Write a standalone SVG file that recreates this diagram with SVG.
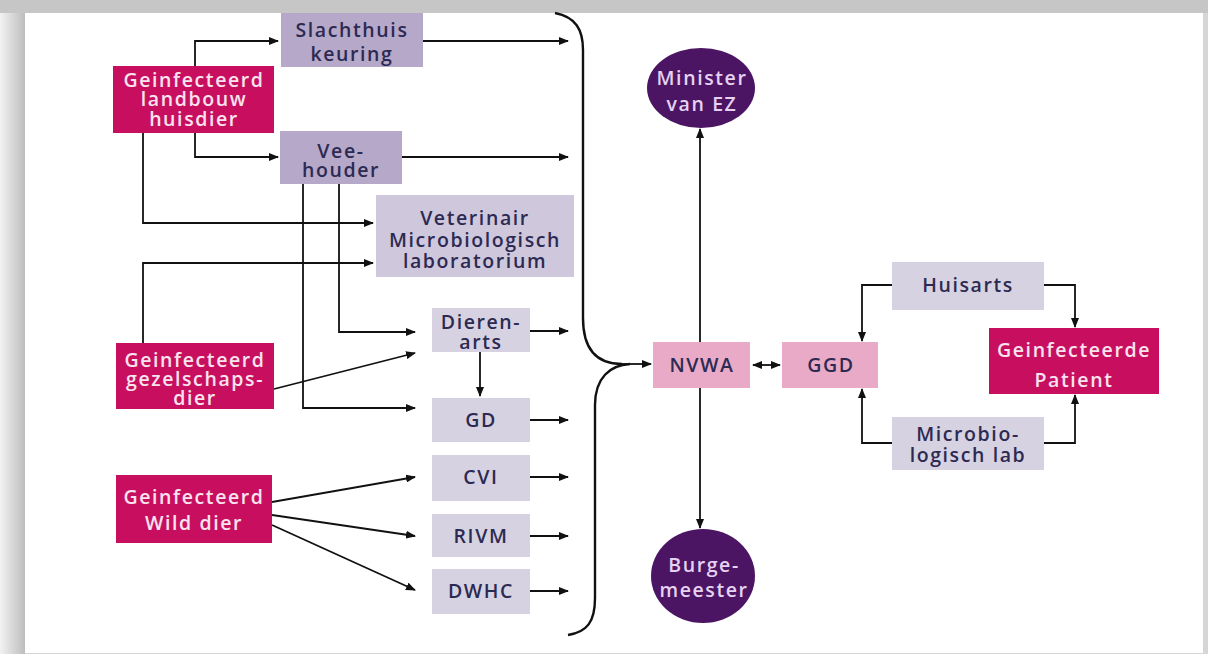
<svg xmlns="http://www.w3.org/2000/svg" width="1208" height="654" viewBox="0 0 1208 654">
<defs>
<linearGradient id="lg" x1="0" y1="0" x2="1" y2="0">
<stop offset="0" stop-color="#f2f2f2"/><stop offset="1" stop-color="#bdbdbd"/>
</linearGradient>
<marker id="ah" markerWidth="10" markerHeight="8" refX="9" refY="4" orient="auto" markerUnits="userSpaceOnUse">
<path d="M0,0 L10,4 L0,8 Z" fill="#111"/>
</marker>
<marker id="ahs" markerWidth="10" markerHeight="8" refX="1" refY="4" orient="auto" markerUnits="userSpaceOnUse">
<path d="M10,0 L0,4 L10,8 Z" fill="#111"/>
</marker>
<style>
text{font-family:"Open Sans","Noto Sans","Liberation Sans",sans-serif;font-size:19.5px;font-weight:600;letter-spacing:1.6px;text-anchor:middle}
.dk{fill:#2c2a52}
.lt{fill:#f9e3ee}
.cl{fill:#e6d2f2}
.mag{fill:#c80f5f}
.pur{fill:#b6a8c8}
.lav{fill:#cfc8dd}
.pal{fill:#d7d2e1}
.pnk{fill:#e8aac6}
.circ{fill:#4b1563}
.c line,.c path,.c polyline{stroke:#111;stroke-width:1.8;fill:none}
</style>
</defs>
<rect x="0" y="0" width="1208" height="654" fill="#d6d6d6"/>
<rect x="0" y="0" width="25" height="654" fill="url(#lg)"/>
<rect x="0" y="0" width="1208" height="13" fill="#c6c6c6"/>
<rect x="25" y="13" width="1178" height="640" fill="#ffffff"/>

<g class="c" id="connectors">
<polyline points="195,66 195,41 278,41" marker-end="url(#ah)"/>
<polyline points="195,133 195,157 278,157" marker-end="url(#ah)"/>
<line x1="423" y1="41" x2="568" y2="41" marker-end="url(#ah)"/>
<line x1="402" y1="157" x2="568" y2="157" marker-end="url(#ah)"/>
<polyline points="143,133 143,223 373,223" marker-end="url(#ah)"/>
<polyline points="143,343 143,263 373,263" marker-end="url(#ah)"/>
<polyline points="339,184 339,332 415,332" marker-end="url(#ah)"/>
<polyline points="303,184 303,408 415,408" marker-end="url(#ah)"/>
<line x1="274" y1="389" x2="415" y2="353" marker-end="url(#ah)"/>
<line x1="530" y1="331" x2="568" y2="331" marker-end="url(#ah)"/>
<line x1="480" y1="352" x2="480" y2="396" marker-end="url(#ah)"/>
<line x1="530" y1="420" x2="568" y2="420" marker-end="url(#ah)"/>
<line x1="530" y1="477" x2="568" y2="477" marker-end="url(#ah)"/>
<line x1="530" y1="536" x2="568" y2="536" marker-end="url(#ah)"/>
<line x1="530" y1="591" x2="568" y2="591" marker-end="url(#ah)"/>
<line x1="272" y1="502" x2="415" y2="477" marker-end="url(#ah)"/>
<line x1="272" y1="515" x2="415" y2="536" marker-end="url(#ah)"/>
<line x1="272" y1="525" x2="415" y2="590" marker-end="url(#ah)"/>
<path d="M555,13 C576,17 583,30 583,50 L583,318 C583,348 596,364 622,364" style="stroke-width:2.4"/>
<path d="M630,364 C610,365 595,378 595,405 L595,598 C595,622 587,632 568,635" style="stroke-width:2.4"/>
<line x1="620" y1="364" x2="651" y2="364" marker-end="url(#ah)"/>
<line x1="700" y1="342" x2="700" y2="129" marker-end="url(#ah)"/>
<line x1="700" y1="388" x2="700" y2="528" marker-end="url(#ah)"/>
<line x1="753" y1="365" x2="780" y2="365" marker-start="url(#ahs)" marker-end="url(#ah)"/>
<polyline points="892,285 862,285 862,341" marker-end="url(#ah)"/>
<polyline points="892,443 862,443 862,389" marker-end="url(#ah)"/>
<polyline points="1044,285 1075,285 1075,327" marker-end="url(#ah)"/>
<polyline points="1044,443 1075,443 1075,395" marker-end="url(#ah)"/>
</g>

<g id="slachthuis"><rect class="pur" x="281" y="13" width="142" height="54"/><text class="dk" x="352" y="37">Slachthuis</text><text class="dk" x="352" y="61">keuring</text></g>
<g id="landbouw"><rect class="mag" x="113" y="66" width="161" height="67"/><text class="lt" x="194" y="87">Geinfecteerd</text><text class="lt" x="194" y="106">landbouw</text><text class="lt" x="194" y="126">huisdier</text></g>
<g id="veehouder"><rect class="pur" x="280" y="131" width="122" height="53"/><text class="dk" x="341" y="158">Vee-</text><text class="dk" x="341" y="177">houder</text></g>
<g id="veterinair"><rect class="lav" x="376" y="195" width="198" height="82"/><text class="dk" x="475" y="225">Veterinair</text><text class="dk" x="475" y="247">Microbiologisch</text><text class="dk" x="475" y="268">laboratorium</text></g>
<g id="gezelschap"><rect class="mag" x="116" y="343" width="158" height="66"/><text class="lt" x="195" y="367">Geinfecteerd</text><text class="lt" x="195" y="386">gezelschaps-</text><text class="lt" x="195" y="405">dier</text></g>
<g id="wild"><rect class="mag" x="116" y="475" width="156" height="68"/><text class="lt" x="194" y="504">Geinfecteerd</text><text class="lt" x="194" y="530">Wild dier</text></g>
<g id="dierenarts"><rect class="pal" x="432" y="308" width="98" height="44"/><text class="dk" x="481" y="329">Dieren-</text><text class="dk" x="481" y="349">arts</text></g>
<g id="gd"><rect class="pal" x="432" y="398" width="98" height="44"/><text class="dk" x="481" y="427">GD</text></g>
<g id="cvi"><rect class="pal" x="432" y="455" width="98" height="46"/><text class="dk" x="481" y="484">CVI</text></g>
<g id="rivm"><rect class="pal" x="432" y="514" width="98" height="43"/><text class="dk" x="481" y="543">RIVM</text></g>
<g id="dwhc"><rect class="pal" x="432" y="569" width="98" height="45"/><text class="dk" x="481" y="598">DWHC</text></g>
<g id="minister"><ellipse class="circ" cx="701" cy="88" rx="54" ry="40"/><text class="cl" x="702" y="85">Minister</text><text class="cl" x="702" y="111">van EZ</text></g>
<g id="burgemeester"><ellipse class="circ" cx="703" cy="576" rx="52" ry="47"/><text class="cl" x="704" y="572">Burge-</text><text class="cl" x="704" y="597">meester</text></g>
<g id="nvwa"><rect class="pnk" x="653" y="342" width="97" height="46"/><text class="dk" x="702" y="372">NVWA</text></g>
<g id="ggd"><rect class="pnk" x="782" y="342" width="96" height="46"/><text class="dk" x="831" y="372">GGD</text></g>
<g id="huisarts"><rect class="pal" x="892" y="262" width="152" height="48"/><text class="dk" x="968" y="292">Huisarts</text></g>
<g id="patient"><rect class="mag" x="989" y="328" width="170" height="66"/><text class="lt" x="1074" y="357">Geinfecteerde</text><text class="lt" x="1074" y="387">Patient</text></g>
<g id="microlab"><rect class="pal" x="892" y="417" width="152" height="53"/><text class="dk" x="968" y="441">Microbio-</text><text class="dk" x="968" y="462">logisch lab</text></g>
</svg>
